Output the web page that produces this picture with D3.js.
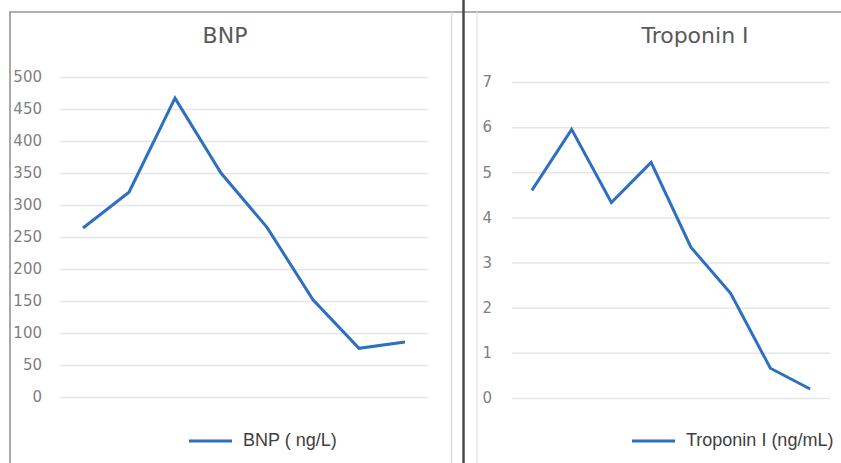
<!DOCTYPE html>
<html>
<head>
<meta charset="utf-8">
<script src="https://cdn.jsdelivr.net/npm/d3@7"></script>
<style>
  html, body { margin: 0; padding: 0; background: #fff; }
  svg { display: block; }
</style>
</head>
<body>
<svg id="chart" width="841" height="463"></svg>
<script>
// ---- data ----
const categories = ["1", "2", "3", "4", "5", "6", "7", "8"];
const bnpValues = [264, 320, 467, 350, 265, 152, 76, 86];
const troponinValues = [4.6, 5.95, 4.33, 5.22, 3.34, 2.32, 0.66, 0.2];
const bnpTicks = [0, 50, 100, 150, 200, 250, 300, 350, 400, 450, 500];
const troponinTicks = [0, 1, 2, 3, 4, 5, 6, 7];
const titles = ["BNP", "Troponin I"];
const legendLabels = ["BNP ( ng/L)", "Troponin I (ng/mL)"];

const svg = d3.select("#chart");
const tickFont = "'DejaVu Sans', sans-serif";
const legFont = "'Liberation Sans', Arial, sans-serif";
const lineColor = "#2e6fbf";

// frame lines
svg.append("line").attr("x1", 9).attr("x2", 841).attr("y1", 12).attr("y2", 12)
  .attr("stroke", "#b0b0b0").attr("stroke-width", 2);
svg.append("line").attr("x1", 10).attr("x2", 10).attr("y1", 12).attr("y2", 463)
  .attr("stroke", "#a8a8a8").attr("stroke-width", 2);
svg.append("line").attr("x1", 451.5).attr("x2", 451.5).attr("y1", 12).attr("y2", 463)
  .attr("stroke", "#dcdcdc").attr("stroke-width", 1.5);
svg.append("line").attr("x1", 477).attr("x2", 477).attr("y1", 12).attr("y2", 463)
  .attr("stroke", "#e4e4e4").attr("stroke-width", 1.5);
svg.append("line").attr("x1", 463.5).attr("x2", 463.5).attr("y1", 0).attr("y2", 463)
  .attr("stroke", "#4a4a4a").attr("stroke-width", 2.5);

function panel(cfg) {
  const g = svg.append("g");
  const x = d3.scalePoint().domain(categories).range([cfg.x0, cfg.x1]).padding(0.5);
  const y = d3.scaleLinear().domain([0, d3.max(cfg.ticks)]).range([cfg.yBottom, cfg.yTop]);

  // grid
  const yAxis = d3.axisLeft(y).tickValues(cfg.ticks).tickSize(-(cfg.x1 - cfg.x0)).tickPadding(cfg.pad).tickFormat(d3.format("d"));
  const ax = g.append("g").attr("transform", `translate(${cfg.x0},0)`).call(yAxis);
  ax.select(".domain").remove();
  ax.selectAll(".tick line").attr("stroke", "#e6e6e6").attr("stroke-width", 1.5);
  ax.selectAll(".tick text").attr("fill", "#7f7f7f").style("font-family", tickFont).style("font-size", "15px");

  // line
  const line = d3.line().x((d, i) => x(categories[i])).y(d => y(d));
  g.append("path").datum(cfg.values).attr("d", line)
    .attr("fill", "none").attr("stroke", lineColor).attr("stroke-width", 3)
    .attr("stroke-linejoin", "miter");

  // title
  g.append("text").attr("x", cfg.titleX).attr("y", 43).attr("text-anchor", "middle")
    .attr("fill", "#595959").style("font-family", tickFont).style("font-size", "22px")
    .text(cfg.title);

  // legend
  g.append("line").attr("x1", cfg.legX).attr("x2", cfg.legX + 43).attr("y1", 441).attr("y2", 441)
    .attr("stroke", lineColor).attr("stroke-width", 3);
  g.append("text").attr("x", cfg.legX + 54).attr("y", 446)
    .attr("fill", "#404040").style("font-family", legFont).style("font-size", "18px")
    .text(cfg.legend);
}

panel({ x0: 60, x1: 428, yBottom: 397, yTop: 77, ticks: bnpTicks, values: bnpValues,
        pad: 18, title: titles[0], titleX: 225, legX: 189, legend: legendLabels[0] });
panel({ x0: 512, x1: 830, yBottom: 398, yTop: 82, ticks: troponinTicks, values: troponinValues,
        pad: 20, title: titles[1], titleX: 695, legX: 632, legend: legendLabels[1] });
</script>
</body>
</html>
